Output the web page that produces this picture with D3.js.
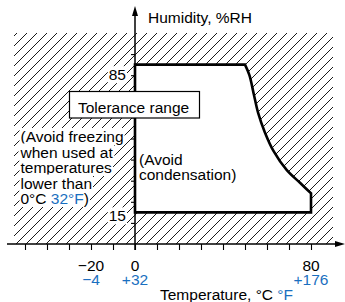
<!DOCTYPE html>
<meta charset="utf-8">
<html>
<head>
  <script src="https://d3js.org/d3.v7.min.js" charset="utf-8"></script>
</head>
<style>
body { margin: 0; background: white; }
text { font-family: "Liberation Sans", Arial, sans-serif; font-size: 15.5px; }
.blue { fill: #1a6fc0; }
</style>
<body>
<div id="container"></div>
<script type="text/javascript">

// temperature (deg C) and humidity (%RH) data
var xTicks = [-50, -40, -30, -20, -10, 0, 10, 20, 30, 40, 50, 60, 70, 80];
var yTicks = [10, 20, 30, 40, 50, 60, 70, 80, 90];
var cLabels = [-20, 0, 80];
var fLabels = ["\u22124", "+32", "+176"];
var yLabels = [85, 15];

// tolerance range outline
var boxTemp = [0, 0, 50];
var boxHum = [15, 85, 85];
var curveTemp = [50, 52, 54, 56, 59, 63, 69, 75, 80];
var curveHum = [85, 80, 71, 62, 53, 44, 35, 29, 24];
var endTemp = [80];
var endHum = [15];

// hatched area limits
var hatchTemp = [-55, 90];
var hatchHum = [0, 100];

var freezeLines = ["(Avoid freezing", "when used at", "temperatures", "lower than"];

var width = 345, height = 302;

var svg = d3.select("#container").append("svg")
    .attr("width", width).attr("height", height);

var x = d3.scaleLinear().domain([0, 80]).range([135, 311]);
var y = d3.scaleLinear().domain([0, 100]).range([244, 33]);

var defs = svg.append("defs");
defs.append("pattern")
    .attr("id", "hatch")
    .attr("patternUnits", "userSpaceOnUse")
    .attr("width", 10).attr("height", 10)
  .append("path")
    .attr("d", "M-1,1 L1,-1 M0,10 L10,0 M9,11 L11,9")
    .attr("stroke", "#000")
    .attr("stroke-width", 0.9);

// hatched background
svg.append("rect")
    .attr("x", x(hatchTemp[0]))
    .attr("y", y(hatchHum[1]))
    .attr("width", x(hatchTemp[1]) - x(hatchTemp[0]))
    .attr("height", y(hatchHum[0]) - y(hatchHum[1]))
    .attr("fill", "url(#hatch)");

// tolerance polygon
var straight = boxTemp.map((t, i) => [x(t), y(boxHum[i])]);
var curved = curveTemp.map((t, i) => [x(t), y(curveHum[i])]);
var ending = endTemp.map((t, i) => [x(t), y(endHum[i])]);

var pathStr = d3.line()(straight)
    + d3.line().curve(d3.curveCatmullRom)(curved).replace(/^M/, "L")
    + d3.line()(ending).replace(/^M/, "L") + "Z";

svg.append("path")
    .attr("d", pathStr)
    .attr("fill", "white")
    .attr("stroke", "#000")
    .attr("stroke-width", 2.6)
    .attr("stroke-linejoin", "miter");

// axes ticks
var xAxis = d3.axisBottom(x).tickValues(xTicks).tickSize(6).tickFormat("");
var yAxis = d3.axisLeft(y).tickValues(yTicks).tickSize(4).tickFormat("");

var gx = svg.append("g").attr("transform", "translate(0," + y(0) + ")").call(xAxis);
var gy = svg.append("g").attr("transform", "translate(" + x(0) + ",0)").call(yAxis);
gx.select(".domain").remove();
gy.select(".domain").remove();
svg.selectAll(".tick line").attr("stroke", "#000").attr("stroke-width", 1.1);

// axis lines with arrows
svg.append("line")
    .attr("x1", 7).attr("x2", width - 6)
    .attr("y1", y(0)).attr("y2", y(0))
    .attr("stroke", "#000").attr("stroke-width", 1.5);
svg.append("path")
    .attr("d", "M" + width + "," + y(0) + " l-10,-3 l0,6 Z")
    .attr("fill", "#000");

svg.append("line")
    .attr("x1", x(0)).attr("x2", x(0))
    .attr("y1", y(0) + 6).attr("y2", 12)
    .attr("stroke", "#000").attr("stroke-width", 1.5);
svg.append("path")
    .attr("d", "M" + x(0) + ",6 l-3,10 l6,0 Z")
    .attr("fill", "#000");

// helper: white background behind text
function backdrop(t, pad) {
  var b = t.node().getBBox();
  svg.insert("rect", function() { return t.node(); })
      .attr("x", b.x - pad).attr("y", b.y - pad + 1)
      .attr("width", b.width + 2 * pad).attr("height", b.height + 2 * pad - 2)
      .attr("fill", "white");
}

// y value labels
yLabels.forEach(function(v, i) {
  var t = svg.append("text")
      .attr("x", x(0) - 9)
      .attr("y", y(v) + (i === 0 ? 15.5 : 9))
      .attr("text-anchor", "end")
      .text(v);
  backdrop(t, 1);
});

// x value labels
cLabels.forEach(function(v, i) {
  svg.append("text")
      .attr("x", x(v))
      .attr("y", 270.5)
      .attr("text-anchor", "middle")
      .text(v < 0 ? "\u2212" + Math.abs(v) : v);
  svg.append("text")
      .attr("class", "blue")
      .attr("x", x(v))
      .attr("y", 285)
      .attr("text-anchor", "middle")
      .text(fLabels[i]);
});

// axis titles
svg.append("text").attr("x", 148).attr("y", 22.5).text("Humidity, %RH");
var tt = svg.append("text").attr("x", 160).attr("y", 300);
tt.append("tspan").text("Temperature, \u00b0C ");
tt.append("tspan").attr("class", "blue").text("\u00b0F");

// freezing note
freezeLines.forEach(function(s, i) {
  var t = svg.append("text").attr("x", 20.5).attr("y", 142 + i * 15.5).text(s);
  backdrop(t, 1);
});
var last = svg.append("text").attr("x", 20.5).attr("y", 142 + 4 * 15.5);
last.append("tspan").text("0\u00b0C ");
last.append("tspan").attr("class", "blue").text("32\u00b0F");
last.append("tspan").text(")");
backdrop(last, 1);

// condensation note
svg.append("text").attr("x", 139).attr("y", 165).text("(Avoid");
svg.append("text").attr("x", 139).attr("y", 180).text("condensation)");

// tolerance range label
svg.append("rect")
    .attr("x", 69.5).attr("y", 91.5)
    .attr("width", 130).attr("height", 26.5)
    .attr("fill", "white").attr("stroke", "#000").attr("stroke-width", 1.2);
svg.append("text").attr("x", 78).attr("y", 113).text("Tolerance range");

</script>
</body>
</html>
